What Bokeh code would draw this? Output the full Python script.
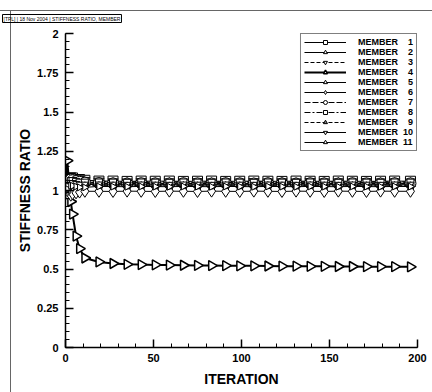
import math
from bokeh.plotting import figure
from bokeh.models import Legend, LegendItem, SingleIntervalTicker
from bokeh.embed import file_html
from bokeh.resources import INLINE

# ---------------- data ----------------
ITERATION = [0, 1, 3, 4, 6, 8, 11, 19, 27, 35, 43, 51, 59, 67, 75, 83, 91, 99,
             107, 115, 123, 131, 139, 147, 155, 163, 171, 179, 187, 196]

MEMBER_1 = [1.00, 1.05, 1.08, 1.08, 1.07, 1.07, 1.065, 1.060, 1.060, 1.058, 1.060, 1.059,
            1.060, 1.058, 1.059, 1.060, 1.058, 1.059, 1.060, 1.059, 1.058, 1.060, 1.059,
            1.058, 1.060, 1.059, 1.058, 1.059, 1.060, 1.059]
MEMBER_2 = [1.00, 1.04, 1.07, 1.06, 1.055, 1.05, 1.05, 1.046, 1.045, 1.046, 1.044, 1.045,
            1.046, 1.045, 1.044, 1.045, 1.046, 1.045, 1.044, 1.045, 1.046, 1.045, 1.044,
            1.045, 1.046, 1.045, 1.044, 1.045, 1.046, 1.045]
MEMBER_3 = [1.00, 1.06, 1.09, 1.08, 1.075, 1.07, 1.065, 1.060, 1.056, 1.055, 1.057, 1.055,
            1.056, 1.055, 1.057, 1.055, 1.056, 1.055, 1.057, 1.055, 1.056, 1.055, 1.057,
            1.055, 1.056, 1.055, 1.057, 1.055, 1.056, 1.055]
MEMBER_4 = [1.00, 1.19, 0.93, 0.85, 0.71, 0.63, 0.57, 0.545, 0.535, 0.530, 0.528, 0.526,
            0.525, 0.524, 0.523, 0.522, 0.521, 0.520, 0.520, 0.519, 0.518, 0.518, 0.517,
            0.517, 0.516, 0.516, 0.515, 0.515, 0.515, 0.514]
MEMBER_5 = [1.00, 1.03, 1.05, 1.05, 1.045, 1.04, 1.04, 1.036, 1.035, 1.036, 1.034, 1.035,
            1.036, 1.035, 1.034, 1.035, 1.036, 1.035, 1.034, 1.035, 1.036, 1.035, 1.034,
            1.035, 1.036, 1.035, 1.034, 1.035, 1.036, 1.035]
MEMBER_6 = [1.00, 0.98, 0.97, 0.98, 0.985, 0.99, 0.995, 0.995, 0.994, 0.996, 0.995, 0.994,
            0.996, 0.995, 0.994, 0.996, 0.995, 0.994, 0.996, 0.995, 0.994, 0.996, 0.995,
            0.994, 0.996, 0.995, 0.994, 0.996, 0.995, 0.995]
MEMBER_7 = [1.00, 1.05, 1.07, 1.065, 1.06, 1.055, 1.05, 1.047, 1.045, 1.044, 1.046, 1.045,
            1.044, 1.046, 1.045, 1.044, 1.046, 1.045, 1.044, 1.046, 1.045, 1.044, 1.046,
            1.045, 1.044, 1.046, 1.045, 1.044, 1.046, 1.045]
MEMBER_8 = [1.00, 1.04, 1.06, 1.06, 1.055, 1.05, 1.05, 1.051, 1.050, 1.049, 1.051, 1.050,
            1.049, 1.051, 1.050, 1.049, 1.051, 1.050, 1.049, 1.051, 1.050, 1.049, 1.051,
            1.050, 1.049, 1.051, 1.050, 1.049, 1.051, 1.050]
MEMBER_9 = [1.00, 1.02, 1.04, 1.04, 1.035, 1.03, 1.03, 1.031, 1.030, 1.029, 1.031, 1.030,
            1.029, 1.031, 1.030, 1.029, 1.031, 1.030, 1.029, 1.031, 1.030, 1.029, 1.031,
            1.030, 1.029, 1.031, 1.030, 1.029, 1.031, 1.030]
MEMBER_10 = [1.00, 1.03, 1.05, 1.05, 1.045, 1.04, 1.04, 1.041, 1.040, 1.039, 1.041, 1.040,
             1.039, 1.041, 1.040, 1.039, 1.041, 1.040, 1.039, 1.041, 1.040, 1.039, 1.041,
             1.040, 1.039, 1.041, 1.040, 1.039, 1.041, 1.040]
MEMBER_11 = [1.00, 1.01, 1.03, 1.03, 1.025, 1.02, 1.02, 1.026, 1.025, 1.024, 1.026, 1.025,
             1.024, 1.026, 1.025, 1.024, 1.026, 1.025, 1.024, 1.026, 1.025, 1.024, 1.026,
             1.025, 1.024, 1.026, 1.025, 1.024, 1.026, 1.025]

MEMBER_NUMBERS = [1, 2, 3, 4, 5, 6, 7, 8, 9, 10, 11]
SERIES = [MEMBER_1, MEMBER_2, MEMBER_3, MEMBER_4, MEMBER_5, MEMBER_6,
          MEMBER_7, MEMBER_8, MEMBER_9, MEMBER_10, MEMBER_11]

X_TICK_INTERVAL = 50
Y_TICK_INTERVAL = 0.25
HEADER_TEXT = "[TPL] | 18 Nov 2004 | STIFFNESS RATIO, MEMBER"

# ---------------- styles ----------------
STYLES = [
    dict(marker="square", size=10, angle=0, dash="solid", lw=1, fill="white"),
    dict(marker="triangle", size=10, angle=0, dash="solid", lw=1, fill="white"),
    dict(marker="inverted_triangle", size=10, angle=0, dash="4 2", lw=1, fill="white"),
    dict(marker="triangle", size=10, angle=-math.pi / 2, dash="solid", lw=2, fill="white"),
    dict(marker="triangle", size=10, angle=math.pi / 2, dash="solid", lw=1, fill="white"),
    dict(marker="diamond", size=12, angle=0, dash="solid", lw=1, fill="white"),
    dict(marker="circle", size=11, angle=0, dash="6 2", lw=1, fill="white"),
    dict(marker="square", size=7, angle=0, dash="6 2 2 2", lw=1, fill="white"),
    dict(marker="triangle", size=7, angle=0, dash="4 2", lw=1, fill="#888888"),
    dict(marker="inverted_triangle", size=7, angle=0, dash="solid", lw=1, fill="white"),
    dict(marker="triangle", size=7, angle=-math.pi / 2, dash="solid", lw=1, fill="white"),
]

FONT = "Liberation Sans"

p = figure(width=432, height=392, x_range=(0, 200), y_range=(0, 2),
           output_backend="svg", toolbar_location=None,
           min_border_left=65, min_border_right=15, min_border_top=33,
           min_border_bottom=45)
p.outline_line_color = None
p.xgrid.visible = False
p.ygrid.visible = False
p.border_fill_alpha = 0
p.styles = {
    "background-image": "linear-gradient(#666666, #666666), linear-gradient(#666666, #666666)",
    "background-size": "1px 382px, 432px 1px",
    "background-position": "10px 10px, 0px 10px",
    "background-repeat": "no-repeat",
}

# tiny page header (as in the plotting program's banner)
p.title.text = HEADER_TEXT
p.title.align = "left"
p.title.vertical_align = "bottom"
p.title.offset = -63
p.title.standoff = 22
p.title.text_font = FONT
p.title.text_font_size = "5px"
p.title.text_font_style = "normal"
p.title.text_color = "black"
p.title.border_line_color = "black"
p.title.border_line_width = 1
p.title.padding = 1

p.xaxis.ticker = SingleIntervalTicker(interval=X_TICK_INTERVAL, num_minor_ticks=5)
p.yaxis.ticker = SingleIntervalTicker(interval=Y_TICK_INTERVAL, num_minor_ticks=5)
p.xaxis.axis_label = "ITERATION"
p.yaxis.axis_label = "STIFFNESS RATIO"
for ax in (p.xaxis, p.yaxis):
    ax.axis_line_width = 1.5
    ax.axis_line_color = "black"
    ax.major_tick_line_width = 1.5
    ax.minor_tick_line_width = 1
    ax.major_tick_line_color = "black"
    ax.minor_tick_line_color = "black"
    ax.major_tick_in = 8
    ax.major_tick_out = 0
    ax.minor_tick_in = 4
    ax.minor_tick_out = 0
    ax.major_label_text_font = FONT
    ax.major_label_text_font_style = "bold"
    ax.major_label_text_font_size = "11px"
    ax.major_label_text_color = "black"
    ax.axis_label_text_font = FONT
    ax.axis_label_text_font_style = "bold"
    ax.axis_label_text_font_size = "14px"
    ax.axis_label_text_color = "black"
p.xaxis.major_label_standoff = 6
p.xaxis.axis_label_standoff = 6
p.yaxis.major_label_standoff = 7
p.yaxis.axis_label_standoff = 1

items = []
for num, ys, st in zip(MEMBER_NUMBERS, SERIES, STYLES):
    lr = p.line(ITERATION, ys, line_color="black", line_width=st["lw"],
                line_dash=st["dash"])
    sr = p.scatter(ITERATION, ys, marker=st["marker"], size=st["size"],
                   angle=st["angle"], line_color="black",
                   line_width=1.5 if st["lw"] > 1 else 1,
                   fill_color=st["fill"])
    pad = "\u00a0" * (4 if num < 10 else 2)
    items.append(LegendItem(label="MEMBER" + pad + str(num), renderers=[lr, sr]))

legend = Legend(items=items, location="top_right", margin=0, padding=3,
                spacing=0, glyph_height=10, label_height=10, glyph_width=42,
                label_standoff=12, border_line_color="black", border_line_width=1,
                background_fill_color="white", background_fill_alpha=1,
                label_text_font=FONT, label_text_font_style="bold",
                label_text_font_size="9px", label_text_color="black")
p.add_layout(legend, "center")

open("out.html", "w").write(file_html(p, INLINE))
